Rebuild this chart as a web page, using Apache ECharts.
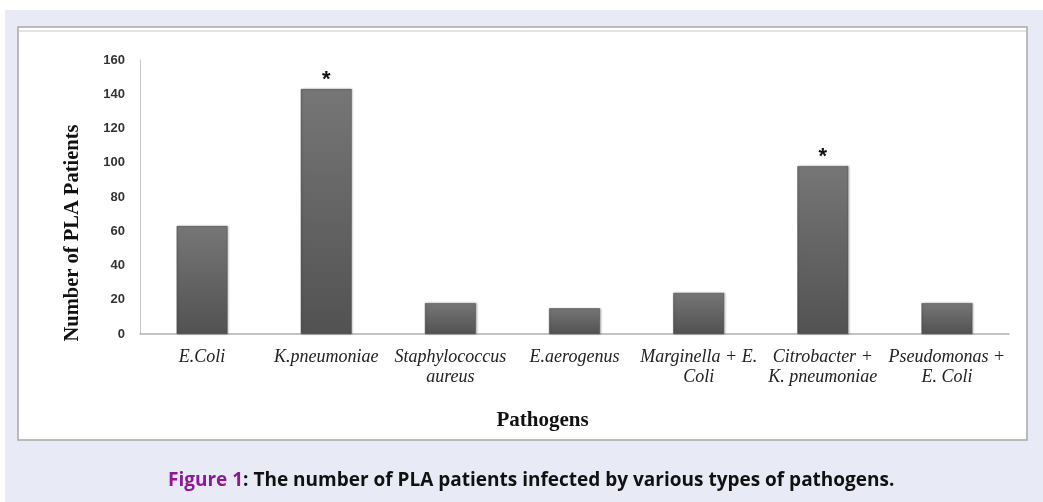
<!DOCTYPE html>
<html><head><meta charset="utf-8">
<script src="https://cdn.jsdelivr.net/npm/echarts@6/dist/echarts.min.js"></script>
<style>html,body{margin:0;padding:0;background:#fff;}#c{width:1043px;height:502px;}</style>
</head><body><div id="c"></div>
<script>
const categories = ['E.Coli','K.pneumoniae','Staphylococcus\naureus','E.aerogenus','Marginella + E.\nColi','Citrobacter +\nK. pneumoniae','Pseudomonas +\nE. Coli'];
const patients = [63, 143, 18, 15, 24, 98, 18];
const significant = [false, true, false, false, false, true, false];
const yTicks = [0, 20, 40, 60, 80, 100, 120, 140, 160];

const chart = echarts.init(document.getElementById('c'), null, {renderer:'canvas'});
chart.setOption({
  animation: false,
  graphic: [
    {type:'rect', z:-10, shape:{x:5,y:10,width:1038,height:492}, style:{fill:'#e8ebf5'}},
    {type:'rect', z:-9, shape:{x:18,y:27,width:1009,height:413}, style:{fill:'#ffffff', stroke:'#a8a8a8', lineWidth:1.5}},
    {type:'line', z:-8, shape:{x1:19,y1:31,x2:1026,y2:31}, style:{stroke:'#c8c8c8', lineWidth:1}},
    {type:'text', left:168, top:471, style:{
      rich:{p:{fill:'#8c1a98', fontFamily:'Open Sans', fontWeight:'bold', fontSize:19},
            b:{fill:'#111', fontFamily:'Open Sans', fontWeight:'bold', fontSize:19}},
      text:'{p|Figure 1}{b|: The number of PLA patients infected by various types of pathogens.}'}}
  ],
  grid: {left:140, right:34, top:60, bottom:168},
  xAxis: {
    type:'category', data: categories,
    axisLine:{lineStyle:{color:'#b0b0b0', width:1.5}},
    axisTick:{show:false},
    axisLabel:{interval:0, margin:13, fontFamily:'Liberation Serif', fontStyle:'italic', fontSize:18, color:'#222', lineHeight:20},
    name:'Pathogens', nameLocation:'middle', nameGap:76,
    nameTextStyle:{fontFamily:'Liberation Serif', fontWeight:'bold', fontSize:21, color:'#111', padding:[0,64,0,0]}
  },
  yAxis: {
    type:'value', min:yTicks[0], max:yTicks[yTicks.length-1], interval:yTicks[1]-yTicks[0],
    axisLine:{show:true, lineStyle:{color:'#c8c8c8', width:1}},
    axisTick:{show:false},
    splitLine:{show:false},
    axisLabel:{margin:15, fontFamily:'Liberation Sans', fontWeight:'bold', fontSize:13, color:'#333'},
    name:'Number of PLA Patients', nameLocation:'middle', nameGap:57,
    nameTextStyle:{fontFamily:'Liberation Serif', fontWeight:'bold', fontSize:20.5, color:'#111', padding:[0,72,0,0]}
  },
  series: [{
    type:'bar', barWidth:'41%',
    data: patients.map((v,i)=>({value:v, label:{show:significant[i]}})),
    itemStyle:{
      color:new echarts.graphic.LinearGradient(0,0,0,1,[{offset:0,color:'#767676'},{offset:1,color:'#525252'}]),
      borderColor:'#4a4a4a', borderWidth:0.5,
      shadowColor:'rgba(0,0,0,0.25)', shadowBlur:2, shadowOffsetX:1, shadowOffsetY:0
    },
    label:{position:'top', distance:-2, formatter:'*', fontFamily:'Liberation Sans', fontWeight:'bold', fontSize:22, color:'#111'}
  }]
});
</script></body></html>
